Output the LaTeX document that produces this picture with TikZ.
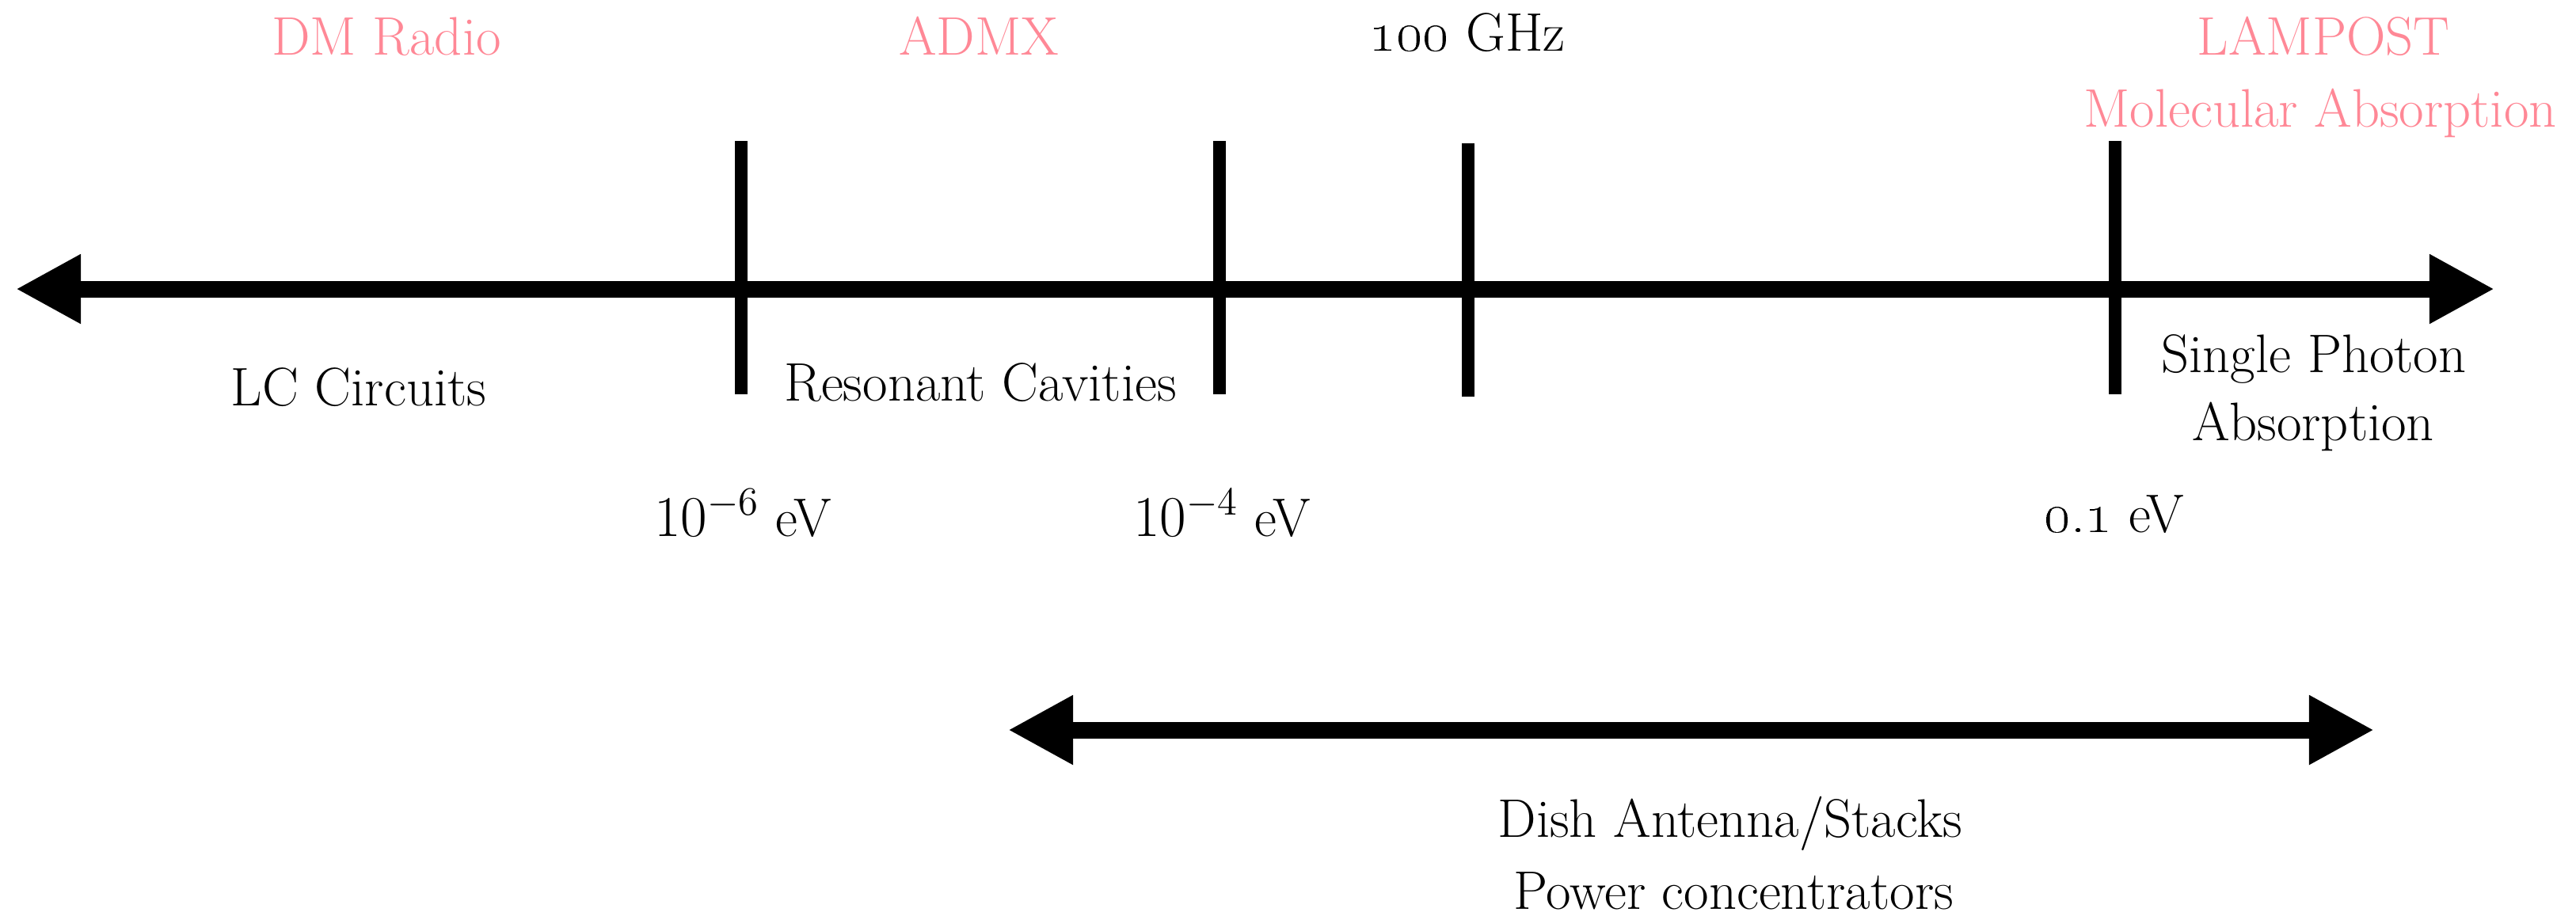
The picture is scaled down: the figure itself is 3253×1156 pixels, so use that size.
\documentclass[tikz,border=0pt]{standalone}
\usetikzlibrary{arrows.meta}
\definecolor{pinkish}{RGB}{255,136,150}
\begin{document}
\begin{tikzpicture}[x=0.01cm,y=-0.01cm,
  lbl/.style={anchor=base,inner sep=0pt,font=\fontsize{19.5}{23}\selectfont},
  pinklbl/.style={lbl,text=pinkish},
  dblaxis/.style={line width=0.21cm,{Triangle[length=8.2mm,width=8.2mm]}-{Triangle[length=8.2mm,width=8.2mm]}},
  tickln/.style={line width=0.16cm}]
\useasboundingbox (0,0) rectangle (3253,1156);
% main axis
\coordinate (aL) at (20,365);
\coordinate (aR) at (3150,365);
\draw[dblaxis] (aL) -- (aR);
% ticks
\coordinate (t1a) at (936,178); \coordinate (t1b) at (936,498);
\coordinate (t2a) at (1540,178); \coordinate (t2b) at (1540,498);
\coordinate (t3a) at (1854,181); \coordinate (t3b) at (1854,501);
\coordinate (t4a) at (2671,178); \coordinate (t4b) at (2671,498);
\draw[tickln] (t1a) -- (t1b);
\draw[tickln] (t2a) -- (t2b);
\draw[tickln] (t3a) -- (t3b);
\draw[tickln] (t4a) -- (t4b);
% lower axis
\coordinate (bL) at (1273,922);
\coordinate (bR) at (2998,922);
\draw[dblaxis] (bL) -- (bR);
% top labels
\node[pinklbl] (dmr) at (488,69) {DM Radio};
\node[pinklbl] (admx) at (1236,69) {ADMX};
\node[lbl] (ghz) at (1853,64) {\oldstylenums{100} GHz};
\node[pinklbl] (lamp) at (2934,69) {LAMPOST};
\node[pinklbl] (mol) at (2930,160) {Molecular Absorption};
% below-axis labels
\node[lbl] (lc) at (453,512) {LC Circuits};
\node[lbl] (rc) at (1238,506) {Resonant Cavities};
\node[lbl] (sp1) at (2922,470) {Single Photon};
\node[lbl] (sp2) at (2921,556) {Absorption};
% energies
\node[lbl] (e6) at (938,677) {$10^{-6}$ eV};
\node[lbl] (e4) at (1543,677) {$10^{-4}$ eV};
\node[lbl] (e1) at (2670,672) {\oldstylenums{0.1} eV};
% lower labels
\node[lbl] (dish) at (2185,1057) {Dish Antenna/Stacks};
\node[lbl] (pow) at (2189,1148) {Power concentrators};
\end{tikzpicture}
\end{document}
